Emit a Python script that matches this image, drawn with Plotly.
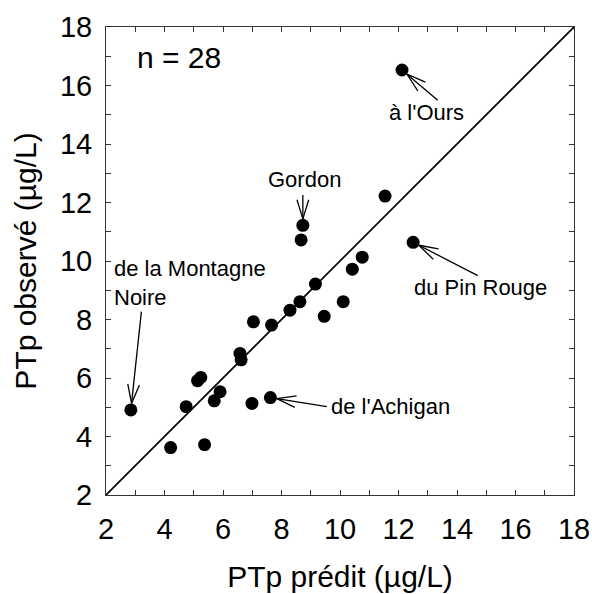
import math
import plotly.graph_objects as go

# Predicted vs observed particulate phosphorus (µg/L), one point per lake
pt_predit = [2.85, 4.21, 5.37, 4.74, 5.13, 5.24, 5.70, 5.90, 6.58, 6.62,
             7.04, 7.66, 6.99, 7.62, 8.29, 8.63, 9.16, 9.46, 10.11, 10.42,
             10.76, 8.67, 8.73, 11.54, 12.12, 12.50]
pt_observe = [4.91, 3.62, 3.72, 5.02, 5.91, 6.02, 5.22, 5.53, 6.84, 6.62,
              7.92, 7.81, 5.13, 5.33, 8.32, 8.61, 9.21, 8.11, 8.61, 9.72,
              10.13, 10.72, 11.22, 12.22, 16.53, 10.64]

# Named lakes: label, point index, label position, arrow tail, text anchor
lacs = ["de la Montagne<br>Noire", "de l'Achigan", "du Pin Rouge", "à l'Ours", "Gordon"]
lac_idx = [0, 13, 25, 24, 22]
lac_txt_x = [2.19, 9.62, 14.79, 12.97, 8.80]
lac_txt_y = [9.25, 5.01, 9.11, 15.09, 12.77]
lac_tail_x = [3.21, 9.55, 14.71, 13.34, 8.73]
lac_tail_y = [8.27, 5.02, 9.50, 15.50, 12.26]
lac_anchor = ["left", "left", "center", "center", "center"]

ticks = [2, 4, 6, 8, 10, 12, 14, 16, 18]
n_label = "n = 28"

W, H = 592, 594
ML, MR, MT, MB = 106, 18, 27, 99
LO, HI = 2, 18
px_per_unit = (W - ML - MR) / (HI - LO)

FONT = "Liberation Sans, Arial, sans-serif"
AXC = "#333"

fig = go.Figure()

# 1:1 line
fig.add_trace(go.Scatter(x=[LO, HI], y=[LO, HI], mode="lines",
                         line=dict(color="black", width=1.7),
                         hoverinfo="skip", showlegend=False))

# Arrows with open V heads, built in screen space (equal scale on both axes)
R_MARK = 6.5 / px_per_unit
BARB = 20 / px_per_unit
HALF = math.radians(17)
ax_x, ax_y = [], []
for i, tx, ty in zip(lac_idx, lac_tail_x, lac_tail_y):
    cx, cy = pt_predit[i], pt_observe[i]
    dx, dy = tx - cx, ty - cy
    d = math.hypot(dx, dy)
    ux, uy = dx / d, dy / d
    hx, hy = cx + ux * R_MARK, cy + uy * R_MARK
    ax_x += [tx, hx, None]
    ax_y += [ty, hy, None]
    for s in (1, -1):
        c, sn = math.cos(s * HALF), math.sin(s * HALF)
        bx = ux * c - uy * sn
        by = ux * sn + uy * c
        ax_x += [hx, hx + bx * BARB, None]
        ax_y += [hy, hy + by * BARB, None]
fig.add_trace(go.Scatter(x=ax_x, y=ax_y, mode="lines",
                         line=dict(color="black", width=1.3),
                         hoverinfo="skip", showlegend=False))

# Lakes
fig.add_trace(go.Scatter(x=pt_predit, y=pt_observe, mode="markers",
                         marker=dict(color="black", size=13, line=dict(width=0)),
                         showlegend=False))

# Invisible trace that carries the top/right tick frame
fig.add_trace(go.Scatter(x=[LO], y=[LO], xaxis="x2", yaxis="y2", mode="markers",
                         marker=dict(opacity=0), hoverinfo="skip", showlegend=False))

annotations = [dict(x=3.0, y=16.95, xref="x", yref="y", text=n_label,
                    showarrow=False, xanchor="left", yanchor="middle",
                    font=dict(family=FONT, size=30, color="black"))]
for name, x, y, anc in zip(lacs, lac_txt_x, lac_txt_y, lac_anchor):
    annotations.append(dict(x=x, y=y, xref="x", yref="y", text=name,
                            showarrow=False, xanchor=anc, yanchor="middle",
                            align="left",
                            font=dict(family=FONT, size=22, color="black")))

axis_common = dict(
    range=[LO, HI], tickvals=ticks, ticktext=[str(t) for t in ticks],
    ticks="inside", ticklen=5, tickwidth=1, tickcolor=AXC,
    minor=dict(ticks="inside", ticklen=5, tickwidth=1, tickcolor=AXC, dtick=1),
    showline=True, linecolor=AXC, linewidth=1, mirror=True,
    showgrid=False, zeroline=False, automargin=False,
    tickfont=dict(family=FONT, size=29, color="black"),
)

frame_common = dict(
    range=[LO, HI], dtick=1, tick0=LO, ticks="inside", ticklen=5, tickwidth=1,
    tickcolor=AXC, showticklabels=False, showline=False,
    showgrid=False, zeroline=False, automargin=False,
)

fig.update_layout(
    width=W, height=H,
    margin=dict(l=ML, r=MR, t=MT, b=MB, autoexpand=False),
    plot_bgcolor="white", paper_bgcolor="white",
    xaxis=dict(axis_common, ticklabelstandoff=8,
               title=dict(text="PTp prédit (µg/L)", standoff=22,
                          font=dict(family=FONT, size=30, color="black"))),
    yaxis=dict(axis_common, ticklabelstandoff=7,
               title=dict(text="PTp observé (µg/L)", standoff=14,
                          font=dict(family=FONT, size=30, color="black"))),
    xaxis2=dict(frame_common, overlaying="x", side="top", anchor="y2"),
    yaxis2=dict(frame_common, overlaying="y", side="right", anchor="x2"),
    annotations=annotations,
)

fig.write_html("out.html")
